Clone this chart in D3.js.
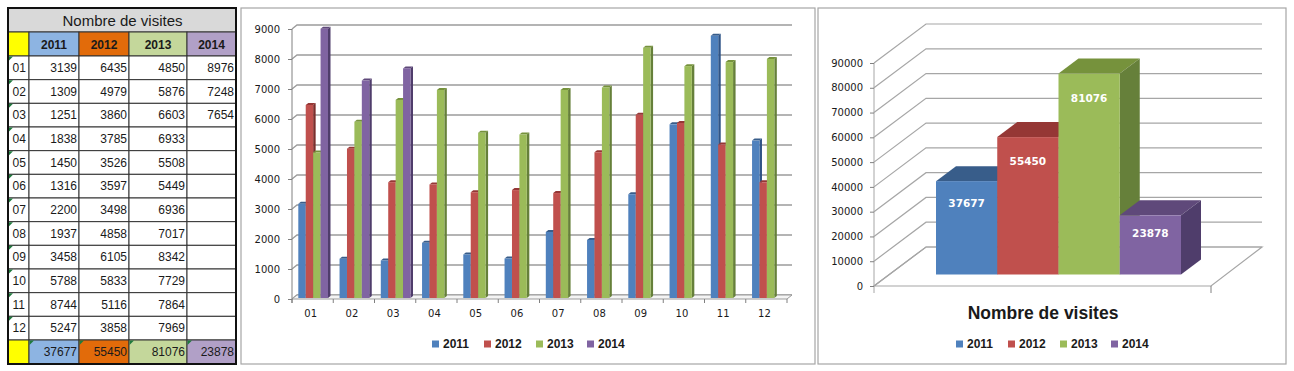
<!DOCTYPE html>
<html>
<head>
<meta charset="utf-8">
<script src="https://cdn.jsdelivr.net/npm/d3@7"></script>
<style>
body { margin: 0; background: #fff; }
svg { display: block; }
text { font-family: "DejaVu Sans", sans-serif; fill: #1a1a1a; }
.axis path { display: none; }
.axis line { stroke: #808080; }
.comic { font-family: "Liberation Sans", sans-serif; }
</style>
</head>
<body>
<div id="chart"></div>
<script>
var months = ["01", "02", "03", "04", "05", "06", "07", "08", "09", "10", "11", "12"];
var years = ["2011", "2012", "2013", "2014"];
var visits2011 = [3139, 1309, 1251, 1838, 1450, 1316, 2200, 1937, 3458, 5788, 8744, 5247];
var visits2012 = [6435, 4979, 3860, 3785, 3526, 3597, 3498, 4858, 6105, 5833, 5116, 3858];
var visits2013 = [4850, 5876, 6603, 6933, 5508, 5449, 6936, 7017, 8342, 7729, 7864, 7969];
var visits2014 = [8976, 7248, 7654, null, null, null, null, null, null, null, null, null];
var totals = [37677, 55450, 81076, 23878];
var monthTicks = [0, 1000, 2000, 3000, 4000, 5000, 6000, 7000, 8000, 9000];
var totalTicks = [0, 10000, 20000, 30000, 40000, 50000, 60000, 70000, 80000, 90000];

var series = [visits2011, visits2012, visits2013, visits2014];

var w = 1294;
var h = 371;

var front = ["#4f81bd", "#c0504d", "#9bbb59", "#8064a2"];
var top3d = ["#385d8a", "#953735", "#76923c", "#5f497a"];
var side3d = ["#2f5487", "#7a2f2d", "#66803a", "#4f3d6b"];
var tableHead = ["#8db4e2", "#e26b0a", "#c4d79b", "#b1a0c7"];

var svg = d3.select("#chart")
    .append("svg")
    .attr("width", w)
    .attr("height", h);

function pts(a) {
    return a.map(function(p) { return p.join(","); }).join(" ");
}

//panels
[[241, 8, 574, 356], [818, 8, 468, 356]].forEach(function(p) {
    svg.append("rect")
        .attr("x", p[0]).attr("y", p[1])
        .attr("width", p[2]).attr("height", p[3])
        .attr("fill", "#fff")
        .attr("stroke", "#a6a6a6")
        .attr("stroke-width", 1.2);
});

//Table
var colX = [8, 29, 79, 129, 187, 236];
var rowY = d3.scaleBand().domain(months).range([56, 340]);
var table = svg.append("g");

function cell(x0, x1, y0, y1, color) {
    table.append("rect")
        .attr("x", x0).attr("y", y0)
        .attr("width", x1 - x0).attr("height", y1 - y0)
        .attr("fill", color)
        .attr("stroke", "#333")
        .attr("stroke-width", 1);
}

function corner(x, y) {
    table.append("polygon")
        .attr("points", pts([[x + 0.5, y + 0.5], [x + 5, y + 0.5], [x + 0.5, y + 5]]))
        .attr("fill", "#1f7a3d");
}

function cellText(x, y, txt, anchor, size, weight) {
    table.append("text")
        .attr("class", "comic")
        .attr("x", x).attr("y", y)
        .attr("text-anchor", anchor)
        .attr("dominant-baseline", "central")
        .attr("font-size", size)
        .attr("font-weight", weight || "normal")
        .text(txt);
}

cell(8, 236, 8, 32, "#d9d9d9");
cellText(122.5, 20, "Nombre de visites", "middle", 15);

cell(8, 29, 32, 56, "#ffff00");
years.forEach(function(y, i) {
    cell(colX[i + 1], colX[i + 2], 32, 56, tableHead[i]);
    cellText((colX[i + 1] + colX[i + 2]) / 2, 44.5, y, "middle", 12, "bold");
});

months.forEach(function(m, r) {
    var y0 = rowY(m);
    var y1 = y0 + rowY.bandwidth();
    cell(8, 29, y0, y1, "#fff");
    corner(8, y0);
    cellText(12.5, (y0 + y1) / 2, m, "start", 12);
    series.forEach(function(s, i) {
        cell(colX[i + 1], colX[i + 2], y0, y1, "#fff");
        if (s[r] !== null) {
            cellText(colX[i + 2] - 2, (y0 + y1) / 2, s[r], "end", 12);
        }
    });
});

cell(8, 29, 340, 364, "#ffff00");
totals.forEach(function(t, i) {
    cell(colX[i + 1], colX[i + 2], 340, 364, tableHead[i]);
    corner(colX[i + 1], 340);
    cellText(colX[i + 2] - 2, 352, t, "end", 12);
});

table.append("rect")
    .attr("x", 8).attr("y", 8)
    .attr("width", 228).attr("height", 356)
    .attr("fill", "none")
    .attr("stroke", "#111")
    .attr("stroke-width", 2);

//Month chart
var x1 = d3.scaleBand().domain(months).range([292, 787]);
var xYear = d3.scaleBand().domain(years).range([6.3, 36]);
var y1Scale = d3.scaleLinear().domain([0, 9000]).range([299, 29]);
var dx1 = 5, dy1 = 4;

var chart1 = svg.append("g");

monthTicks.forEach(function(t) {
    var y = y1Scale(t);
    chart1.append("polyline")
        .attr("points", pts([[292, y], [292 + dx1, y - dy1], [787 + dx1, y - dy1]]))
        .attr("fill", "none")
        .attr("stroke", "#9c9c9c")
        .attr("stroke-width", 1.4);
});
chart1.append("polygon")
    .attr("points", pts([[292, 299], [787, 299], [792, 295], [297, 295]]))
    .attr("fill", "#f4f4f4")
    .attr("stroke", "#9c9c9c");
chart1.append("line")
    .attr("x1", 292).attr("x2", 292)
    .attr("y1", 29).attr("y2", 303)
    .attr("stroke", "#808080");

chart1.append("g")
    .attr("class", "axis")
    .attr("transform", "translate(292,0)")
    .call(d3.axisLeft(y1Scale).tickValues(monthTicks).tickSize(4).tickPadding(8).tickFormat(d3.format("d")))
    .selectAll("text")
    .attr("font-size", 10)
    .style("font-family", "DejaVu Sans");

chart1.append("g")
    .attr("class", "axis")
    .attr("transform", "translate(-2,299)")
    .call(d3.axisBottom(x1).tickSize(0).tickPadding(11))
    .selectAll("text")
    .attr("font-size", 10)
    .style("font-family", "DejaVu Sans");

//ticks sit between the months
months.concat(["end"]).forEach(function(m, i) {
    var x = 292 + i * x1.bandwidth();
    chart1.append("line")
        .attr("x1", x).attr("x2", x)
        .attr("y1", 299).attr("y2", 303)
        .attr("stroke", "#808080");
});

months.forEach(function(m, r) {
    series.forEach(function(s, i) {
        if (s[r] === null) return;
        var bw = xYear.bandwidth();
        var x0 = x1(m) + xYear(years[i]);
        var yTop = y1Scale(s[r]) - 1;
        var yBase = 298;
        chart1.append("polygon")
            .attr("points", pts([[x0 + bw, yTop], [x0 + bw + 2.5, yTop - 2], [x0 + bw + 2.5, yBase - 2], [x0 + bw, yBase]]))
            .attr("fill", side3d[i]);
        chart1.append("polygon")
            .attr("points", pts([[x0, yTop], [x0 + 2.5, yTop - 2], [x0 + bw + 2.5, yTop - 2], [x0 + bw, yTop]]))
            .attr("fill", top3d[i]);
        chart1.append("rect")
            .attr("x", x0).attr("y", yTop)
            .attr("width", bw).attr("height", yBase - yTop)
            .attr("fill", front[i]);
    });
});

function legend(xs, size, boxSize) {
    years.forEach(function(y, i) {
        svg.append("rect")
            .attr("x", xs[i] - boxSize - 4).attr("y", 344 - boxSize / 2)
            .attr("width", boxSize).attr("height", boxSize)
            .attr("fill", front[i]);
        svg.append("text")
            .attr("class", "comic")
            .attr("x", xs[i]).attr("y", 344)
            .attr("dominant-baseline", "central")
            .attr("font-size", size)
            .attr("font-weight", "bold")
            .text(y);
    });
}

legend([443, 495, 547, 598], 12, 7);

//Total chart
var y2 = d3.scaleLinear().domain([0, 90000]).range([286, 63]);
var x2 = d3.scaleBand().domain(years).range([936, 1181]);
var dx2 = 52, dy2 = 39;

var chart2 = svg.append("g");

totalTicks.forEach(function(t) {
    var y = y2(t);
    chart2.append("polyline")
        .attr("points", pts([[874, y], [874 + dx2, y - dy2], [1262, y - dy2]]))
        .attr("fill", "none")
        .attr("stroke", "#a6a6a6")
        .attr("stroke-width", 1.2);
});
chart2.append("polygon")
    .attr("points", pts([[874, 286], [1211, 286], [1262, 247], [926, 247]]))
    .attr("fill", "none")
    .attr("stroke", "#a6a6a6")
    .attr("stroke-width", 1.2);
chart2.append("line")
    .attr("x1", 1211).attr("x2", 1211)
    .attr("y1", 286).attr("y2", 293)
    .attr("stroke", "#808080");
chart2.append("line")
    .attr("x1", 874).attr("x2", 874)
    .attr("y1", 63).attr("y2", 293)
    .attr("stroke", "#a6a6a6");

chart2.append("g")
    .attr("class", "axis")
    .attr("transform", "translate(874,0)")
    .call(d3.axisLeft(y2).tickValues(totalTicks).tickSize(4).tickPadding(7).tickFormat(d3.format("d")))
    .selectAll("text")
    .attr("font-size", 10)
    .style("font-family", "DejaVu Sans");

var labelDrop = [22, 24, 24, 18];

totals.forEach(function(t, i) {
    var bw = x2.bandwidth();
    var x0 = x2(years[i]);
    var yBase = 274.5;
    var yTop = y2(t) - 11.5;
    chart2.append("polygon")
        .attr("points", pts([[x0, yTop], [x0 + 20, yTop - 15], [x0 + bw + 20, yTop - 15], [x0 + bw, yTop]]))
        .attr("fill", top3d[i]);
    chart2.append("polygon")
        .attr("points", pts([[x0 + bw, yTop], [x0 + bw + 20, yTop - 15], [x0 + bw + 20, yBase - 15], [x0 + bw, yBase]]))
        .attr("fill", side3d[i]);
    chart2.append("rect")
        .attr("x", x0).attr("y", yTop)
        .attr("width", bw).attr("height", yBase - yTop)
        .attr("fill", front[i]);
    chart2.append("text")
        .attr("x", x0 + bw / 2).attr("y", yTop + labelDrop[i])
        .attr("text-anchor", "middle")
        .attr("dominant-baseline", "central")
        .attr("font-size", 10.5)
        .attr("font-weight", "bold")
        .style("fill", "#fff")
        .text(t);
});

svg.append("text")
    .attr("class", "comic")
    .attr("x", 1043).attr("y", 312.5)
    .attr("text-anchor", "middle")
    .attr("dominant-baseline", "central")
    .attr("font-size", 17.5)
    .attr("font-weight", "bold")
    .text("Nombre de visites");

legend([967, 1019, 1071, 1122], 12, 7);
</script>
</body>
</html>
